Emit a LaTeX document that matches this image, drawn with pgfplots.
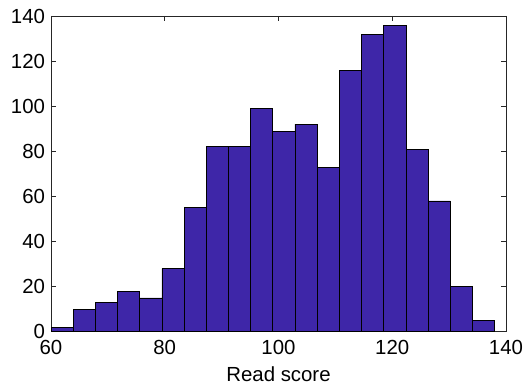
\documentclass[border=0pt]{standalone}
\usepackage{pgfplots}
\pgfplotsset{compat=1.18}
\usepackage{fontspec}
\setmainfont{Liberation Sans}
\definecolor{barfill}{RGB}{62,38,168}
\definecolor{axgray}{RGB}{38,38,38}
\begin{document}
\begin{tikzpicture}
\begin{axis}[
  width=341.25pt, height=236.8pt,
  scale only axis,
  xmin=60, xmax=140, ymin=0, ymax=140,
  xtick={60,80,...,140}, ytick={0,20,...,140},
  tick align=inside,
  major tick length=3.5pt,
  axis line style={axgray, line width=0.5pt},
  tick style={axgray, line width=0.5pt},
  every tick label/.append style={font=\fontsize{15.3}{17}\selectfont, text=black},
  /pgf/number format/assume math mode=true,
  xlabel={Read score},
  xlabel style={font=\fontsize{15.3}{17}\selectfont, yshift=-2pt},
  xticklabel style={yshift=-3pt},
  yticklabel style={xshift=-1pt},
]
\addplot[ybar interval, fill=barfill, draw=black, line width=0.5pt] coordinates {
(60,2) (63.9,10) (67.8,13) (71.7,18) (75.6,15) (79.5,28) (83.4,55) (87.3,82)
(91.2,82) (95.1,99) (99,89) (102.9,92) (106.8,73) (110.7,116) (114.6,132)
(118.5,136) (122.4,81) (126.3,58) (130.2,20) (134.1,5) (138,5)
};
\end{axis}
\pgfresetboundingbox
\path ([xshift=-38.25pt,yshift=-41.5pt]current axis.south west) rectangle ([xshift=12.75pt,yshift=12pt]current axis.north east);
\end{tikzpicture}
\end{document}
